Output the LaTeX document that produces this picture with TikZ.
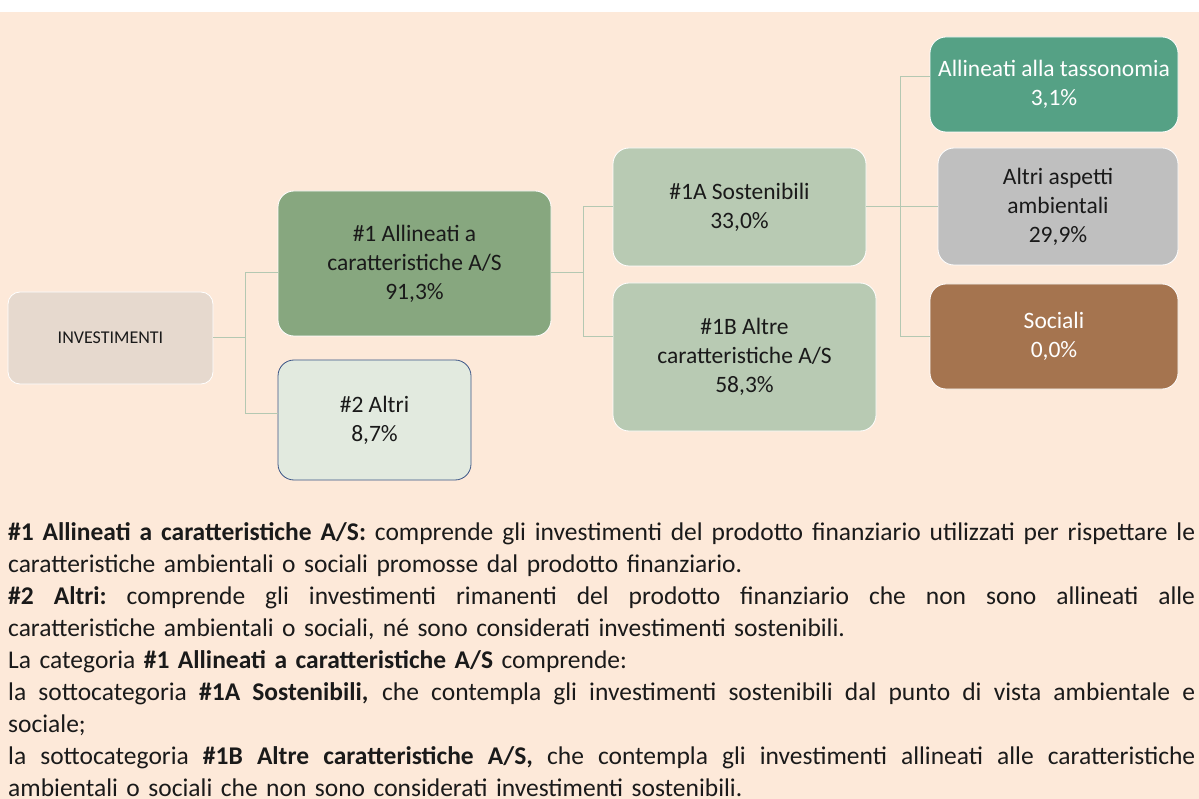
\documentclass[tikz,border=0pt]{standalone}
\usepackage{fontspec}
\setmainfont{Carlito}
\usetikzlibrary{backgrounds}
\definecolor{speach}{HTML}{FDE9D9}
\definecolor{sinv}{HTML}{E6D9CE}
\definecolor{sone}{HTML}{87A77F}
\definecolor{stwo}{HTML}{E2EADF}
\definecolor{sblue}{HTML}{3B5586}
\definecolor{ssub}{HTML}{B8CAB3}
\definecolor{stax}{HTML}{55A185}
\definecolor{sgrey}{HTML}{BFBFBF}
\definecolor{sbrown}{HTML}{A5744F}
\definecolor{sline}{HTML}{B4C8B2}
\definecolor{stext}{HTML}{1A1A1A}
\hbadness=10000
\newcommand\jline[1]{\makebox[\linewidth][s]{\spaceskip=0.226em plus 1fil\relax\xspaceskip=0.226em plus 1fil\relax #1}}

\begin{document}
\begin{tikzpicture}[x=1pt,y=-1pt,
    box/.style={rectangle,rounded corners=16pt,draw=white,line width=0.8pt,align=center,inner sep=0pt,text=stext,font=\fontsize{23.5}{29}\selectfont},
    conn/.style={draw=sline,line width=1pt}]
     \useasboundingbox (0,0) rectangle (1199,799);

     \node[box,fill=sinv,rounded corners=12pt,minimum width=205pt,minimum height=92pt,font=\fontsize{18}{22}\selectfont] (inv) at (110.5,338) {INVESTIMENTI};
     \node[box,fill=sone,minimum width=273pt,minimum height=145pt] (a1) at (414.5,263.5) {\#1 Allineati a\\caratteristiche A/S\\91,3\%};
     \node[box,fill=stwo,draw=sblue,minimum width=193pt,minimum height=120pt] (a2) at (374.5,420) {\#2 Altri\\8,7\%};
 
     \node[box,fill=ssub,minimum width=253pt,minimum height=118pt] (s1a) at (739.5,207) {\#1A Sostenibili\\33,0\%};
     \node[box,fill=ssub,minimum width=263pt,minimum height=148pt] (s1b) at (744.5,357) {\#1B Altre\\caratteristiche A/S\\58,3\%};
 
     \node[box,fill=stax,text=white,minimum width=248pt,minimum height=95pt] (tax) at (1054,84.5) {Allineati alla tassonomia\\3,1\%};
     \node[box,fill=sgrey,minimum width=240pt,minimum height=117pt] (amb) at (1058,206.5) {Altri aspetti\\ambientali\\29,9\%};
     \node[box,fill=sbrown,text=white,minimum width=248pt,minimum height=105pt] (soc) at (1054,336.5) {Sociali\\0,0\%};
 
     \coordinate (j1) at (245,338);
     \coordinate (j2) at (583,273);
     \coordinate (j3) at (900,207);
 
     \draw[conn] (inv.east) -- (j1) |- ([yshift=-9.5pt]a1.west);
     \draw[conn] (j1) |- ([yshift=6.5pt]a2.west);
     \draw[conn] ([yshift=-9.5pt]a1.east) -- (j2) |- (s1a.west);
     \draw[conn] (j2) |- ([yshift=20pt]s1b.west);
     \draw[conn] (s1a.east) -- (j3) |- ([yshift=7.5pt]tax.west);
     \draw[conn] (j3) |- (amb.west);
     \draw[conn] (j3) |- (soc.west);
 
     \node[anchor=base west,inner sep=0pt,text width=1187pt,align=left,text=stext,font=\fontsize{25.5}{32.1}\selectfont] (notes) at (8,540) {%
       \jline{\textbf{\#1 Allineati a caratteristiche A/S:} comprende gli investimenti del prodotto finanziario utilizzati per rispettare le}\\
       caratteristiche ambientali o sociali promosse dal prodotto finanziario.\\
       \jline{\textbf{\#2 Altri:} comprende gli investimenti rimanenti del prodotto finanziario che non sono allineati alle}\\
       caratteristiche ambientali o sociali, né sono considerati investimenti sostenibili.\\
       La categoria \textbf{\#1 Allineati a caratteristiche A/S} comprende:\\
       \jline{la sottocategoria \textbf{\#1A Sostenibili,} che contempla gli investimenti sostenibili dal punto di vista ambientale e}\\
       sociale;\\
       \jline{la sottocategoria \textbf{\#1B Altre caratteristiche A/S,} che contempla gli investimenti allineati alle caratteristiche}\\
       ambientali o sociali che non sono considerati investimenti sostenibili.};
 
     \begin{pgfonlayer}{background}
        \fill[white] (0,0) rectangle (1199,12);
        \fill[speach] (0,12) rectangle (1199,799);
     \end{pgfonlayer}
\end{tikzpicture}
\end{document}
